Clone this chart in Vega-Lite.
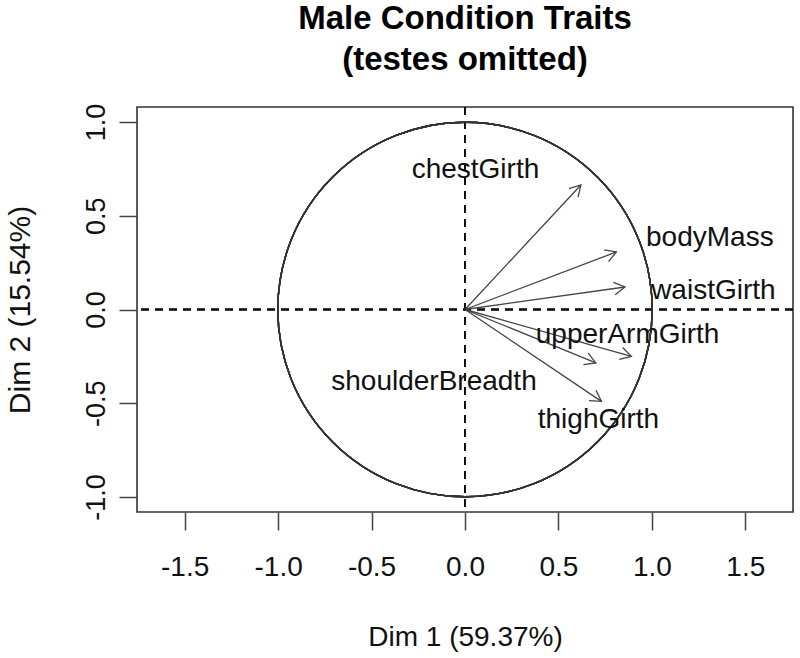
{
  "$schema": "https://vega.github.io/schema/vega-lite/v6.json",
  "width": 656,
  "height": 405,
  "autosize": {"type": "none"},
  "padding": {"left": 137, "top": 107, "right": 7, "bottom": 146},
  "background": "white",
  "title": {
    "text": ["Male Condition Traits", "(testes omitted)"],
    "font": "Liberation Sans",
    "fontSize": 33,
    "fontWeight": "bold",
    "lineHeight": 41,
    "color": "black",
    "anchor": "middle",
    "frame": "group",
    "offset": 26
  },
  "config": {
    "view": {"stroke": "#333", "strokeWidth": 1.6},
    "axis": {
      "labelFont": "Liberation Sans",
      "titleFont": "Liberation Sans",
      "labelFontSize": 28,
      "titleFontSize": 28,
      "titleFontWeight": "normal",
      "labelColor": "#111",
      "titleColor": "#111",
      "tickColor": "#444",
      "tickWidth": 1.5,
      "tickSize": 18,
      "grid": false,
      "domain": false
    }
  },
  "data": {
    "values": [
      {"name": "chestGirth", "x": 0.62, "y": 0.664, "lx": 0.056, "ly": 0.701},
      {"name": "bodyMass", "x": 0.81, "y": 0.307, "lx": 1.31, "ly": 0.339},
      {"name": "waistGirth", "x": 0.856, "y": 0.12, "lx": 1.329, "ly": 0.056},
      {"name": "upperArmGirth", "x": 0.89, "y": -0.25, "lx": 0.87, "ly": -0.179},
      {"name": "shoulderBreadth", "x": 0.70, "y": -0.285, "lx": -0.166, "ly": -0.429},
      {"name": "thighGirth", "x": 0.73, "y": -0.49, "lx": 0.714, "ly": -0.632}
    ]
  },
  "layer": [
    {
      "mark": {"type": "rule", "color": "#111", "strokeWidth": 1.6, "strokeDash": [8, 6]},
      "encoding": {
        "x": {
          "datum": 0,
          "type": "quantitative",
          "title": "Dim 1 (59.37%)",
          "scale": {"domain": [-1.755, 1.755], "nice": false, "zero": false},
          "axis": {
            "values": [-1.5, -1, -0.5, 0, 0.5, 1, 1.5],
            "labelExpr": "(datum.value < 0 ? '-' : '') + format(abs(datum.value), '.1f')",
            "labelPadding": 23,
            "titlePadding": 42
          }
        }
      }
    },
    {
      "mark": {"type": "rule", "color": "#111", "strokeWidth": 1.6, "strokeDash": [8, 6]},
      "encoding": {
        "y": {
          "datum": 0,
          "type": "quantitative",
          "title": "Dim 2 (15.54%)",
          "scale": {"domain": [-1.08, 1.08], "nice": false, "zero": false},
          "axis": {
            "values": [-1, -0.5, 0, 0.5, 1],
            "labelExpr": "(datum.value < 0 ? '-' : '') + format(abs(datum.value), '.1f')",
            "labelAngle": -90,
            "labelAlign": "center",
            "labelBaseline": "alphabetic",
            "labelFontSize": 27,
            "labelPadding": 15,
            "titleFontSize": 30,
            "titlePadding": 47
          }
        }
      }
    },
    {
      "mark": {"type": "point", "shape": "circle", "filled": false, "size": 140178, "stroke": "#333", "strokeWidth": 1.4, "opacity": 1},
      "encoding": {
        "x": {"datum": 0, "type": "quantitative", "title": "Dim 1 (59.37%)"},
        "y": {"datum": 0, "type": "quantitative", "title": "Dim 2 (15.54%)"}
      }
    },
    {
      "mark": {"type": "rule", "color": "#444", "strokeWidth": 1.3},
      "encoding": {
        "x": {"field": "x", "type": "quantitative", "title": "Dim 1 (59.37%)"},
        "y": {"field": "y", "type": "quantitative", "title": "Dim 2 (15.54%)"},
        "x2": {"datum": 0},
        "y2": {"datum": 0}
      }
    },
    {
      "transform": [{"calculate": "atan2(datum.x, datum.y) * 180 / PI", "as": "ang"}],
      "mark": {"type": "point", "shape": "M -0.5 0.866 L 0 0 L 0.5 0.866", "filled": false, "size": 620, "stroke": "#444", "strokeWidth": 1.3, "opacity": 1},
      "encoding": {
        "x": {"field": "x", "type": "quantitative", "title": "Dim 1 (59.37%)"},
        "y": {"field": "y", "type": "quantitative", "title": "Dim 2 (15.54%)"},
        "angle": {"field": "ang", "type": "quantitative", "scale": null}
      }
    },
    {
      "mark": {"type": "text", "font": "Liberation Sans", "fontSize": 28, "color": "#111", "align": "center", "baseline": "alphabetic"},
      "encoding": {
        "x": {"field": "lx", "type": "quantitative", "title": "Dim 1 (59.37%)"},
        "y": {"field": "ly", "type": "quantitative", "title": "Dim 2 (15.54%)"},
        "text": {"field": "name"}
      }
    }
  ]
}
